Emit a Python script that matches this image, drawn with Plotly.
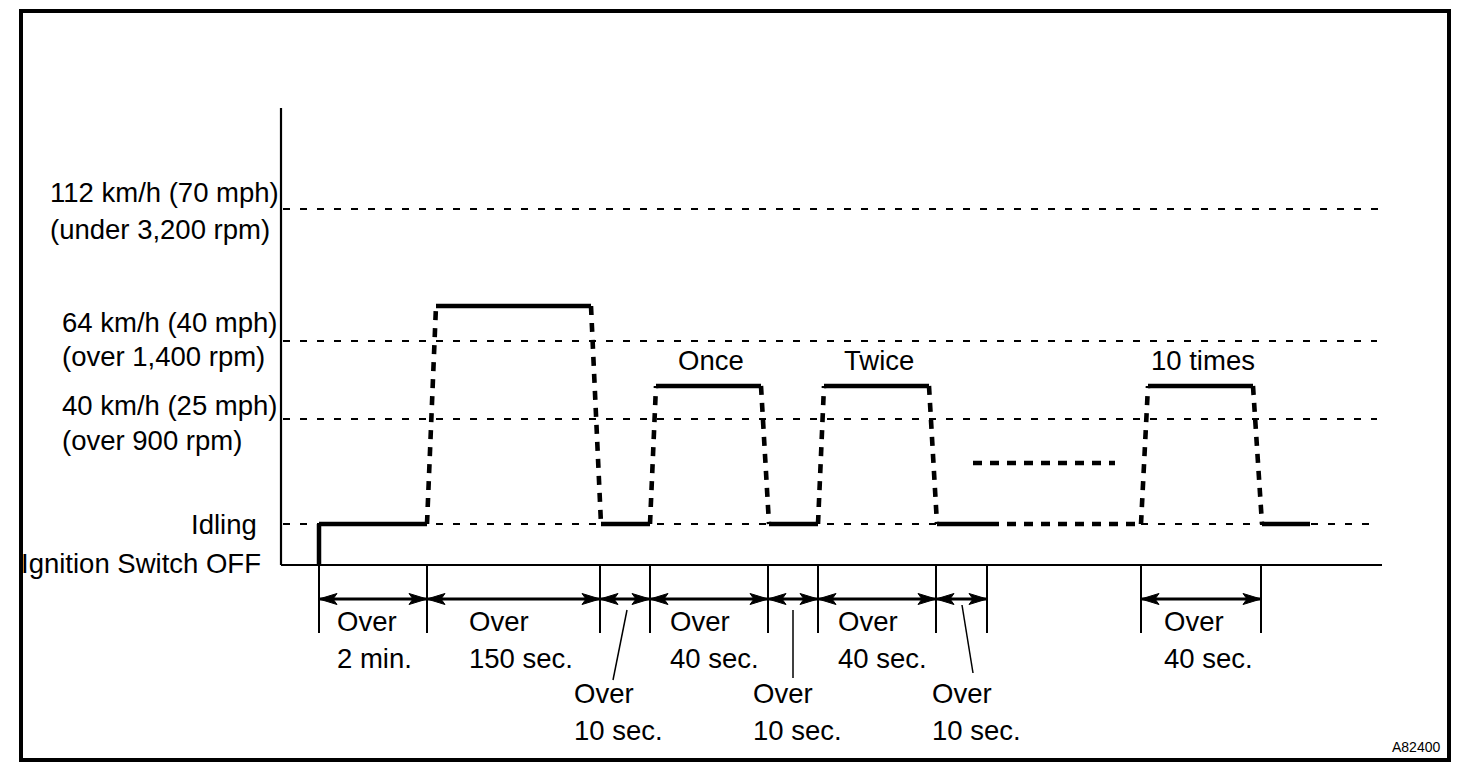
import plotly.graph_objects as go

# ---------------- data (schematic diagram units) ----------------
level_line1 = ["112 km/h (70 mph)", "64 km/h (40 mph)", "40 km/h (25 mph)"]
level_line2 = ["(under 3,200 rpm)", "(over 1,400 rpm)", "(over 900 rpm)"]
level_pos = [209, 341, 419]          # speed level positions
level_guide_end = [1380, 1377, 1377]
idle_pos = 524
off_pos = 565
idle_guide_parts = [(283, 990), (1141, 1372)]

# speed trace vertices (time, level) and style of each segment
path_t = [319, 319, 427, 436, 591, 601, 650, 656, 761, 769, 818, 824, 929, 937, 990, 1141, 1148, 1253, 1262, 1310]
path_v = [565, 524, 524, 306, 306, 524, 524, 386, 386, 524, 524, 386, 386, 524, 524, 524, 386, 386, 524, 524]
seg_style = ["solid", "solid", "dash", "solid", "dash", "solid", "dash", "solid", "dash", "solid",
             "dash", "solid", "dash", "solid", "dash", "dash", "solid", "dash", "solid"]
# "repeat" indicator
repeat_t = [973, 1115]
repeat_v = 463

peak_labels = ["Once", "Twice", "10 times"]
peak_seg = [7, 11, 16]

# duration dimensions
dim_start = [319, 427, 600, 650, 768, 818, 936, 1141]
dim_end = [427, 600, 650, 768, 818, 936, 987, 1261]
dim_text1 = ["Over"] * 8
dim_text2 = ["2 min.", "150 sec.", "10 sec.", "40 sec.", "10 sec.", "40 sec.", "10 sec.", "40 sec."]
dim_label_x = [335, 467, 572, 668, 751, 836, 930, 1162]
dim_row = [0, 0, 1, 0, 1, 0, 1, 0]
leaders = [((627, 610), (613, 680)), ((793, 610), (793, 678)), ((962, 605), (973, 673))]

FONT = "Liberation Sans, Arial, Helvetica, sans-serif"
FS = 27.5
BLACK = "#000000"
PAGE_OFFSET = 8  # default body margin of the html page
DIM_Y = 599
HEAD_L, HEAD_W, HEAD_N = 18, 5.5, 14

fig = go.Figure()


def line(xs, ys, width, dash="solid"):
    fig.add_trace(go.Scatter(x=xs, y=ys, mode="lines",
                             line=dict(color=BLACK, width=width, dash=dash),
                             hoverinfo="skip", showlegend=False))


# guide (dashed) lines
for p, e in zip(level_pos, level_guide_end):
    line([283, e], [p, p], 1.8, "7px,10px")
for a, b in idle_guide_parts:
    line([a, b], [idle_pos, idle_pos], 1.8, "7px,10px")

# axes
line([281, 281], [108, off_pos], 2.2)
line([281, 1382], [off_pos, off_pos], 2.2)

# speed trace
for i, st in enumerate(seg_style):
    xs = [path_t[i], path_t[i + 1]]
    ys = [path_v[i], path_v[i + 1]]
    if st == "solid":
        line(xs, ys, 4.5)
    else:
        line(xs, ys, 4.6, "9px,8px")
line(repeat_t, [repeat_v, repeat_v], 4.6, "9px,8px")

# ticks at dimension boundaries
bounds = sorted(set(dim_start + dim_end))
for b in bounds:
    line([b, b], [off_pos, 633], 2)

# leaders
for (a, b) in leaders:
    line([a[0], b[0]], [a[1], b[1]], 1.5)

# dimension arrows: shaft + filled heads
shapes = [dict(type="rect", xref="x", yref="y", x0=21, x1=1449, y0=11, y1=760,
               line=dict(color=BLACK, width=4))]


def head(tip, direction):
    d = direction
    p = (f"M{tip},{DIM_Y} L{tip + d * HEAD_L},{DIM_Y - HEAD_W} "
         f"L{tip + d * HEAD_N},{DIM_Y} L{tip + d * HEAD_L},{DIM_Y + HEAD_W} Z")
    return dict(type="path", path=p, xref="x", yref="y", fillcolor=BLACK,
                line=dict(color=BLACK, width=1))


for s, e in zip(dim_start, dim_end):
    line([s, e], [DIM_Y, DIM_Y], 2.8)
    shapes.append(head(s, 1))
    shapes.append(head(e, -1))

annotations = []
row_y = [(621, 658), (693, 730)]
for lx, r, t1, t2 in zip(dim_label_x, dim_row, dim_text1, dim_text2):
    for txt, yy in zip((t1, t2), row_y[r]):
        annotations.append(dict(x=lx, y=yy, xref="x", yref="y", text=txt, showarrow=False,
                                xanchor="left", yanchor="middle",
                                font=dict(family=FONT, size=FS, color=BLACK)))

# level labels
level_label_x = [48, 60, 60]
for lx, p, t1, t2, y1, y2 in zip(level_label_x, level_pos, level_line1, level_line2,
                                 [192, 322, 405], [229, 356, 440]):
    annotations.append(dict(x=lx, y=y1, xref="x", yref="y", text=t1, showarrow=False,
                            xanchor="left", yanchor="middle", font=dict(family=FONT, size=FS, color=BLACK)))
    annotations.append(dict(x=lx, y=y2, xref="x", yref="y", text=t2, showarrow=False,
                            xanchor="left", yanchor="middle", font=dict(family=FONT, size=FS, color=BLACK)))

annotations.append(dict(x=259, y=524, xref="x", yref="y", text="Idling", showarrow=False,
                        xanchor="right", yanchor="middle", font=dict(family=FONT, size=FS, color=BLACK)))
annotations.append(dict(x=263, y=563, xref="x", yref="y", text="Ignition Switch OFF", showarrow=False,
                        xanchor="right", yanchor="middle", font=dict(family=FONT, size=FS, color=BLACK)))

for lab, si in zip(peak_labels, peak_seg):
    cx = (path_t[si] + path_t[si + 1]) / 2 + 2
    annotations.append(dict(x=cx, y=360, xref="x", yref="y", text=lab, showarrow=False,
                            xanchor="center", yanchor="middle", font=dict(family=FONT, size=FS, color=BLACK)))

annotations.append(dict(x=1442, y=747, xref="x", yref="y", text="A82400", showarrow=False,
                        xanchor="right", yanchor="middle", font=dict(family=FONT, size=14, color=BLACK)))

fig.update_layout(
    width=1472, height=768,
    margin=dict(l=0, r=0, t=0, b=0),
    paper_bgcolor="white", plot_bgcolor="white",
    xaxis=dict(range=[PAGE_OFFSET, 1472 + PAGE_OFFSET], visible=False, fixedrange=True),
    yaxis=dict(range=[768 + PAGE_OFFSET, PAGE_OFFSET], visible=False, fixedrange=True),
    annotations=annotations,
    shapes=shapes,
)

fig.write_html("out.html")
